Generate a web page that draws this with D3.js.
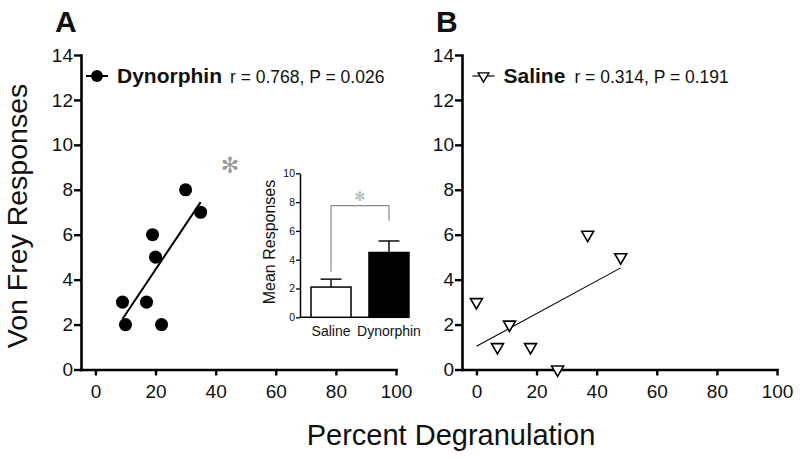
<!DOCTYPE html>
<html>
<head>
<meta charset="utf-8">
<script src="https://cdn.jsdelivr.net/npm/d3@7"></script>
<style>
  html, body { margin: 0; padding: 0; background: #fff; }
  svg { display: block; }
</style>
</head>
<body>
<svg id="chart" width="800" height="460"></svg>
<script>
// ---- Data ----
const dynX = [9, 10, 17, 19, 20, 22, 30, 35];
const dynY = [3, 2, 3, 6, 5, 2, 8, 7];
const salX = [0, 7, 11, 18, 27, 37, 48];
const salY = [3, 1, 2, 1, 0, 6, 5];
const xTicks = [0, 20, 40, 60, 80, 100];
const yTicks = [0, 2, 4, 6, 8, 10, 12, 14];
const dynLabel = "Dynorphin", dynStats = "r = 0.768, P = 0.026";
const salLabel = "Saline", salStats = "r = 0.314, P = 0.191";
const insetGroups = ["Saline", "Dynorphin"];
const insetMeans = [2.1, 4.5];
const insetSEM = [0.55, 0.8];
const insetTicks = [0, 2, 4, 6, 8, 10];

const svg = d3.select("#chart");
const FONT = "Liberation Sans";

const yScale = d3.scaleLinear().domain([0, 14]).range([369.5, 55]);

function fit(xs, ys) {
  const mx = d3.mean(xs), my = d3.mean(ys);
  let sxy = 0, sxx = 0;
  xs.forEach((x, i) => { sxy += (x - mx) * (ys[i] - my); sxx += (x - mx) * (x - mx); });
  const b = sxy / sxx, a = my - b * mx;
  return x => a + b * x;
}

function panel(opts) {
  const g = svg.append("g");
  const x = d3.scaleLinear().domain([-4.8, 100]).range([opts.x0, opts.x0 + 315]);

  const yAx = g.append("g").attr("transform", `translate(${opts.x0},0)`)
    .call(d3.axisLeft(yScale).tickValues(yTicks).tickSize(7).tickSizeOuter(0).tickPadding(1));
  const xAx = g.append("g").attr("transform", `translate(0,${yScale(0)})`)
    .call(d3.axisBottom(x).tickValues(xTicks).tickSize(6).tickSizeOuter(0).tickPadding(4));
  [yAx, xAx].forEach(a => {
    a.attr("font-family", FONT).attr("font-size", 19);
    a.select(".domain").attr("stroke", "#000").attr("stroke-width", 2.6).attr("stroke-linecap", "square");
    a.selectAll(".tick line").attr("stroke", "#000").attr("stroke-width", 2.4);
    a.selectAll(".tick text").attr("fill", "#111");
  });
  xAx.selectAll(".tick text").attr("dy", "0.95em");

  const f = fit(opts.xs, opts.ys);
  const xmin = d3.min(opts.xs), xmax = d3.max(opts.xs);
  g.append("line")
    .attr("x1", x(xmin)).attr("y1", yScale(f(xmin)))
    .attr("x2", x(xmax)).attr("y2", yScale(f(xmax)))
    .attr("stroke", "#000").attr("stroke-width", opts.lw);

  const pts = opts.xs.map((v, i) => [v, opts.ys[i]]);
  const sym = opts.tri ? d3.symbol().type(d3.symbolTriangle).size(62) : d3.symbol().type(d3.symbolCircle).size(135);
  g.selectAll("path.pt").data(pts).enter().append("path")
    .attr("class", "pt")
    .attr("d", sym)
    .attr("transform", d => `translate(${x(d[0])},${yScale(d[1])})${opts.tri ? " rotate(180)" : ""}`)
    .attr("fill", opts.tri ? "#fff" : "#000")
    .attr("stroke", "#000").attr("stroke-width", opts.tri ? 1.6 : 0);

  const lx = opts.x0 + opts.legendDx, ly = 76;
  g.append("line").attr("x1", lx - 11).attr("x2", lx + 11).attr("y1", ly).attr("y2", ly)
    .attr("stroke", "#000").attr("stroke-width", opts.tri ? 1.2 : 2);
  g.append("path").attr("d", opts.tri ? d3.symbol().type(d3.symbolTriangle).size(50) : d3.symbol().type(d3.symbolCircle).size(110))
    .attr("transform", `translate(${lx},${ly})${opts.tri ? " rotate(180)" : ""}`)
    .attr("fill", opts.tri ? "#fff" : "#000").attr("stroke", "#000").attr("stroke-width", opts.tri ? 1.4 : 0);
  const t = g.append("text").attr("x", lx + 20).attr("y", 82.5).attr("fill", "#111").attr("font-family", FONT);
  t.append("tspan").text(opts.label).attr("font-weight", "bold").attr("font-size", 21);
  t.append("tspan").text(opts.stats).attr("font-size", 17.5).attr("dx", opts.gap);

  g.append("text").attr("x", opts.x0 - 26).attr("y", 31.5).text(opts.letter).attr("font-family", FONT)
    .attr("font-weight", "bold").attr("font-size", 30).attr("fill", "#111");
  return x;
}

panel({ x0: 81, xs: dynX, ys: dynY, tri: false, lw: 2, legendDx: 16, label: dynLabel, stats: dynStats, letter: "A", gap: 8 });
panel({ x0: 462, xs: salX, ys: salY, tri: true, lw: 1.1, legendDx: 21.5, label: salLabel, stats: salStats, letter: "B", gap: 9 });

// Big gray asterisk in panel A
svg.append("text").attr("x", 230).attr("y", 173).attr("text-anchor", "middle")
  .attr("font-family", "DejaVu Sans").attr("font-size", 22).attr("fill", "#999").text("\u273B");

// ---- Inset bar chart ----
const iy = d3.scaleLinear().domain([0, 10]).range([317.3, 173.3]);
const ix = d3.scaleBand().domain(insetGroups).range([300, 420]).paddingInner(0.31).paddingOuter(0.19);
const ig = svg.append("g");
const iyAx = ig.append("g").attr("transform", "translate(300,0)")
  .call(d3.axisLeft(iy).tickValues(insetTicks).tickSize(4).tickSizeOuter(0).tickPadding(1));
iyAx.attr("font-family", FONT).attr("font-size", 10.5);
iyAx.select(".domain").attr("stroke", "#000").attr("stroke-width", 1.5);
iyAx.selectAll(".tick line").attr("stroke", "#000").attr("stroke-width", 1.3);
iyAx.selectAll(".tick text").attr("fill", "#111");
ig.append("line").attr("x1", 300).attr("x2", ix(insetGroups[1]) + ix.bandwidth())
  .attr("y1", iy(0)).attr("y2", iy(0)).attr("stroke", "#000").attr("stroke-width", 1.5);

insetGroups.forEach((gname, i) => {
  const cx = ix(gname) + ix.bandwidth() / 2;
  ig.append("line").attr("x1", cx).attr("x2", cx).attr("y1", iy(insetMeans[i])).attr("y2", iy(insetMeans[i] + insetSEM[i]))
    .attr("stroke", "#000").attr("stroke-width", 1.4);
  ig.append("line").attr("x1", cx - 10.5).attr("x2", cx + 10.5)
    .attr("y1", iy(insetMeans[i] + insetSEM[i])).attr("y2", iy(insetMeans[i] + insetSEM[i]))
    .attr("stroke", "#000").attr("stroke-width", 1.4);
  ig.append("rect").attr("x", ix(gname)).attr("width", ix.bandwidth())
    .attr("y", iy(insetMeans[i])).attr("height", iy(0) - iy(insetMeans[i]))
    .attr("fill", i === 0 ? "#fff" : "#000").attr("stroke", "#000").attr("stroke-width", 1.5);
  ig.append("text").attr("x", cx).attr("y", 335.5).attr("text-anchor", "middle").attr("font-family", FONT)
    .attr("font-size", 14).attr("fill", "#111").text(gname);
});

const c0 = ix(insetGroups[0]) + ix.bandwidth() / 2, c1 = ix(insetGroups[1]) + ix.bandwidth() / 2;
ig.append("path")
  .attr("d", `M${c0},${iy(3.17)}V${iy(7.75)}H${c1}V${iy(6.7)}`)
  .attr("fill", "none").attr("stroke", "#888").attr("stroke-width", 1.2);
ig.append("text").attr("x", (c0 + c1) / 2).attr("y", 201).attr("text-anchor", "middle")
  .attr("font-family", "DejaVu Sans").attr("font-size", 13).attr("fill", "#aaa").text("\u273B");

ig.append("text").attr("transform", "translate(275,242) rotate(-90)").attr("text-anchor", "middle").attr("font-family", FONT)
  .attr("font-size", 16).attr("fill", "#111").text("Mean Responses");

// ---- Axis titles ----
svg.append("text").attr("transform", "translate(27,216) rotate(-90)").attr("text-anchor", "middle").attr("font-family", FONT)
  .attr("font-size", 28.5).attr("fill", "#111").text("Von Frey Responses");
svg.append("text").attr("x", 451).attr("y", 445).attr("text-anchor", "middle").attr("font-family", FONT)
  .attr("font-size", 29).attr("fill", "#111").text("Percent Degranulation");
</script>
</body>
</html>
